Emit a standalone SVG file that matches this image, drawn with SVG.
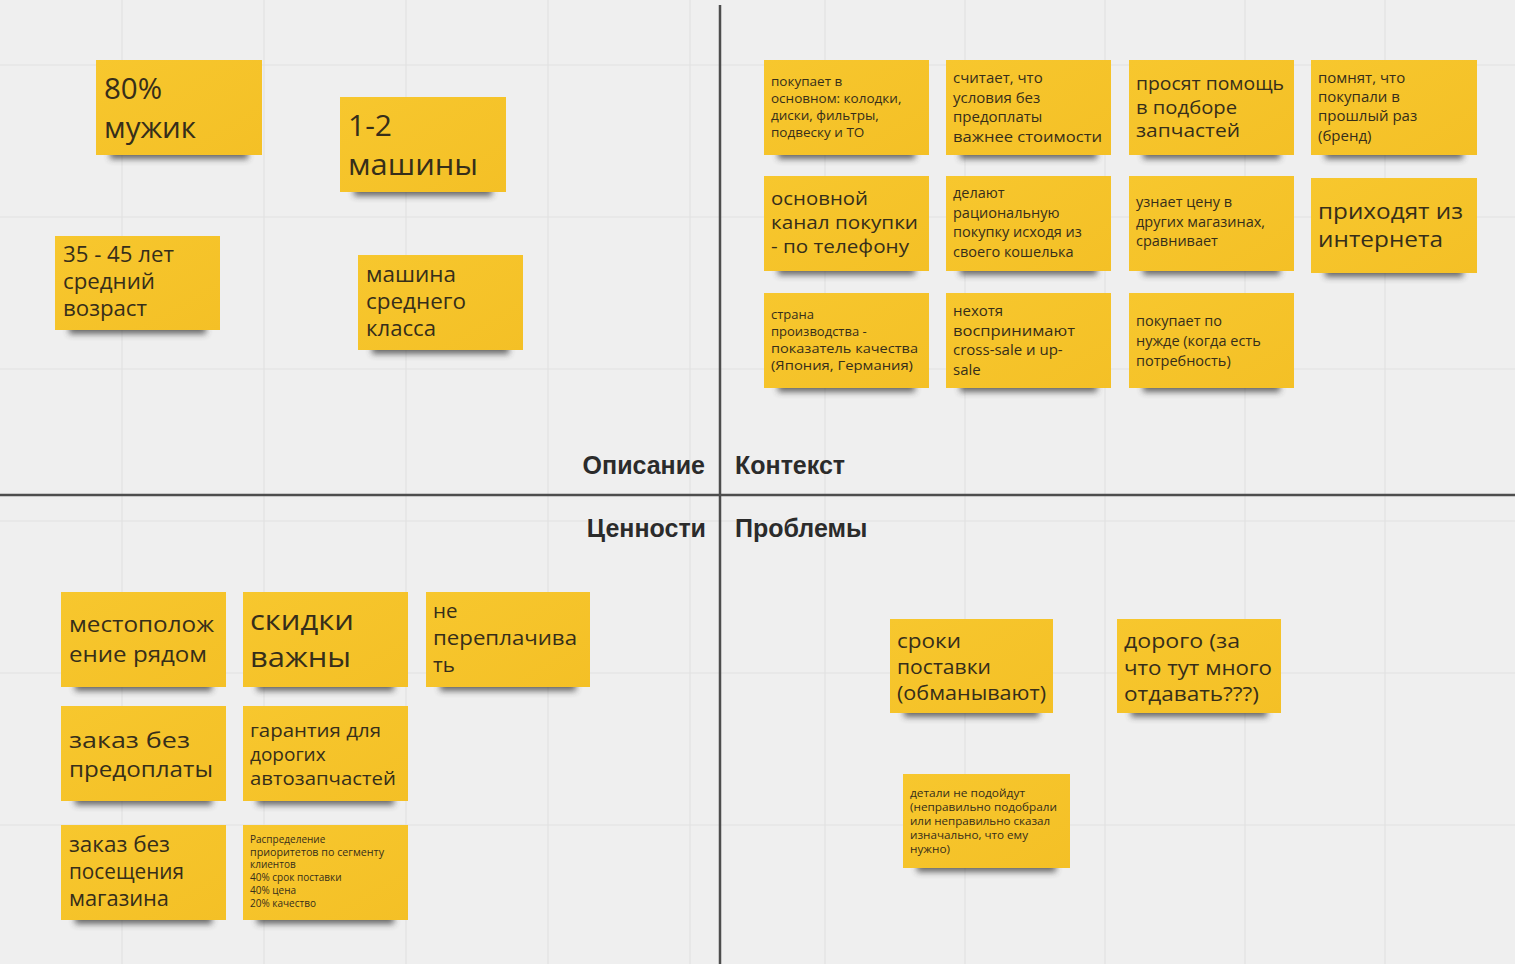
<svg xmlns="http://www.w3.org/2000/svg" width="1515" height="964" viewBox="0 0 1515 964">
<defs>
<filter id="blur" x="-20%" y="-100%" width="140%" height="300%"><feGaussianBlur stdDeviation="3"/></filter>
<linearGradient id="yel" x1="0" y1="0" x2="1" y2="1"><stop offset="0" stop-color="#f7c72e"/><stop offset="1" stop-color="#f4c026"/></linearGradient>
</defs>
<style>
.bg{fill:#efefef}
.grid{stroke:#e2e2e2;stroke-width:1.2;fill:none}
.axis{stroke:#4d4d4d;stroke-width:2.5;fill:none}
.hdr{font-family:"Liberation Sans",Arial,sans-serif;font-weight:bold;font-size:25px;fill:#2b2b2b}
.st{fill:url(#yel)}
.sh{fill:#3a3a3a;opacity:.75;filter:url(#blur)}
.t{font-family:"Open Sans","Noto Sans",sans-serif;fill:#362e1a}
</style>
<rect class="bg" x="0" y="0" width="1515" height="964"/>
<g id="grid">
<path class="grid" d="M122 0V495M264 0V495M406 0V495M548 0V495M690 0V495M122 495V964M264 495V964M406 495V964M548 495V964M690 495V964"/>
<path class="grid" d="M825 0V964M965 0V964M1105 0V964M1245 0V964M1385 0V964"/>
<path class="grid" d="M0 65H1515M0 217H1515M0 369H1515M0 521H1515M0 673H1515M0 825H1515"/>
</g>
<g id="connectors">
<path class="axis" d="M720 5V964"/>
<path class="axis" d="M0 495H1515"/>
</g>
<g id="labels">
<text class="hdr" x="705" y="474" text-anchor="end">Описание</text>
<text class="hdr" x="735" y="474">Контекст</text>
<text class="hdr" x="706" y="537" text-anchor="end">Ценности</text>
<text class="hdr" x="735" y="537">Проблемы</text>
</g>

<g id="n-muzhik">
<rect class="sh" x="110" y="145" width="138" height="14"/>
<rect class="st" x="96" y="60" width="166" height="95"/>
<text class="t" font-size="29.5"><tspan x="104" y="99">80%</tspan><tspan x="104" y="138">мужик</tspan></text>
</g>
<g id="n-mashiny">
<rect class="sh" x="354" y="182" width="138" height="14"/>
<rect class="st" x="340" y="97" width="166" height="95"/>
<text class="t" font-size="30"><tspan x="348" y="136">1-2</tspan><tspan x="348" y="175" textLength="130" lengthAdjust="spacingAndGlyphs">машины</tspan></text>
</g>
<g id="n-vozrast">
<rect class="sh" x="69" y="320" width="137" height="14"/>
<rect class="st" x="55" y="236" width="165" height="94"/>
<text class="t" font-size="21"><tspan x="63" y="262" textLength="111" lengthAdjust="spacingAndGlyphs">35 - 45 лет</tspan><tspan x="63" y="289" textLength="92" lengthAdjust="spacingAndGlyphs">средний</tspan><tspan x="63" y="316" textLength="84" lengthAdjust="spacingAndGlyphs">возраст</tspan></text>
</g>
<g id="n-klass">
<rect class="sh" x="372" y="340" width="137" height="14"/>
<rect class="st" x="358" y="255" width="165" height="95"/>
<text class="t" font-size="21"><tspan x="366" y="282" textLength="90" lengthAdjust="spacingAndGlyphs">машина</tspan><tspan x="366" y="309" textLength="100" lengthAdjust="spacingAndGlyphs">среднего</tspan><tspan x="366" y="336" textLength="70" lengthAdjust="spacingAndGlyphs">класса</tspan></text>
</g>

<g id="n-pokupaet">
<rect class="sh" x="778" y="145" width="137" height="14"/>
<rect class="st" x="764" y="60" width="165" height="95"/>
<text class="t" font-size="13.5"><tspan x="771" y="86">покупает в</tspan><tspan x="771" y="103">основном: колодки,</tspan><tspan x="771" y="120">диски, фильтры,</tspan><tspan x="771" y="137">подвеску и ТО</tspan></text>
</g>
<g id="n-schitaet">
<rect class="sh" x="960" y="145" width="137" height="14"/>
<rect class="st" x="946" y="60" width="165" height="95"/>
<text class="t" font-size="15"><tspan x="953" y="83">считает, что</tspan><tspan x="953" y="102.5">условия без</tspan><tspan x="953" y="122">предоплаты</tspan><tspan x="953" y="141.5" textLength="149" lengthAdjust="spacingAndGlyphs">важнее стоимости</tspan></text>
</g>
<g id="n-prosyat">
<rect class="sh" x="1143" y="145" width="137" height="14"/>
<rect class="st" x="1129" y="60" width="165" height="95"/>
<text class="t" font-size="18.3"><tspan x="1136" y="90" textLength="148" lengthAdjust="spacingAndGlyphs">просят помощь</tspan><tspan x="1136" y="113.5" textLength="101" lengthAdjust="spacingAndGlyphs">в подборе</tspan><tspan x="1136" y="137" textLength="104" lengthAdjust="spacingAndGlyphs">запчастей</tspan></text>
</g>
<g id="n-pomnyat">
<rect class="sh" x="1325" y="145" width="138" height="14"/>
<rect class="st" x="1311" y="60" width="166" height="95"/>
<text class="t" font-size="15"><tspan x="1318" y="83">помнят, что</tspan><tspan x="1318" y="102">покупали в</tspan><tspan x="1318" y="121">прошлый раз</tspan><tspan x="1318" y="141">(бренд)</tspan></text>
</g>

<g id="n-kanal">
<rect class="sh" x="778" y="261" width="137" height="14"/>
<rect class="st" x="764" y="176" width="165" height="95"/>
<text class="t" font-size="19"><tspan x="771" y="205" textLength="97" lengthAdjust="spacingAndGlyphs">основной</tspan><tspan x="771" y="229" textLength="147" lengthAdjust="spacingAndGlyphs">канал покупки</tspan><tspan x="771" y="253" textLength="138" lengthAdjust="spacingAndGlyphs">- по телефону</tspan></text>
</g>
<g id="n-racion">
<rect class="sh" x="960" y="261" width="137" height="14"/>
<rect class="st" x="946" y="176" width="165" height="95"/>
<text class="t" font-size="14.5"><tspan x="953" y="198">делают</tspan><tspan x="953" y="218">рациональную</tspan><tspan x="953" y="237">покупку исходя из</tspan><tspan x="953" y="257">своего кошелька</tspan></text>
</g>
<g id="n-cena">
<rect class="sh" x="1143" y="261" width="137" height="14"/>
<rect class="st" x="1129" y="176" width="165" height="95"/>
<text class="t" font-size="14.5"><tspan x="1136" y="207">узнает цену в</tspan><tspan x="1136" y="227">других магазинах,</tspan><tspan x="1136" y="246">сравнивает</tspan></text>
</g>
<g id="n-internet">
<rect class="sh" x="1325" y="263" width="138" height="14"/>
<rect class="st" x="1311" y="178" width="166" height="95"/>
<text class="t" font-size="22"><tspan x="1318" y="219" textLength="145" lengthAdjust="spacingAndGlyphs">приходят из</tspan><tspan x="1318" y="247" textLength="125" lengthAdjust="spacingAndGlyphs">интернета</tspan></text>
</g>

<g id="n-strana">
<rect class="sh" x="778" y="378" width="137" height="14"/>
<rect class="st" x="764" y="293" width="165" height="95"/>
<text class="t" font-size="13"><tspan x="771" y="319">страна</tspan><tspan x="771" y="336">производства -</tspan><tspan x="771" y="353" textLength="147" lengthAdjust="spacingAndGlyphs">показатель качества</tspan><tspan x="771" y="369.5" textLength="142" lengthAdjust="spacingAndGlyphs">(Япония, Германия)</tspan></text>
</g>
<g id="n-crosssale">
<rect class="sh" x="960" y="378" width="137" height="14"/>
<rect class="st" x="946" y="293" width="165" height="95"/>
<text class="t" font-size="15"><tspan x="953" y="316">нехотя</tspan><tspan x="953" y="335.5" textLength="122" lengthAdjust="spacingAndGlyphs">воспринимают</tspan><tspan x="953" y="355">cross-sale и up-</tspan><tspan x="953" y="374.5">sale</tspan></text>
</g>
<g id="n-nuzhda">
<rect class="sh" x="1143" y="378" width="137" height="14"/>
<rect class="st" x="1129" y="293" width="165" height="95"/>
<text class="t" font-size="14.5"><tspan x="1136" y="326">покупает по</tspan><tspan x="1136" y="346">нужде (когда есть</tspan><tspan x="1136" y="366">потребность)</tspan></text>
</g>

<g id="n-mesto">
<rect class="sh" x="75" y="677" width="137" height="14"/>
<rect class="st" x="61" y="592" width="165" height="95"/>
<text class="t" font-size="22.5"><tspan x="69" y="632" textLength="145" lengthAdjust="spacingAndGlyphs">местополож</tspan><tspan x="69" y="662" textLength="138" lengthAdjust="spacingAndGlyphs">ение рядом</tspan></text>
</g>
<g id="n-skidki">
<rect class="sh" x="257" y="677" width="137" height="14"/>
<rect class="st" x="243" y="592" width="165" height="95"/>
<text class="t" font-size="28"><tspan x="250" y="630" textLength="104" lengthAdjust="spacingAndGlyphs">скидки</tspan><tspan x="250" y="667" textLength="101" lengthAdjust="spacingAndGlyphs">важны</tspan></text>
</g>
<g id="n-pereplach">
<rect class="sh" x="440" y="677" width="136" height="14"/>
<rect class="st" x="426" y="592" width="164" height="95"/>
<text class="t" font-size="20.5"><tspan x="433" y="618">не</tspan><tspan x="433" y="645" textLength="144" lengthAdjust="spacingAndGlyphs">переплачива</tspan><tspan x="433" y="672">ть</tspan></text>
</g>
<g id="n-predoplata">
<rect class="sh" x="75" y="791" width="137" height="14"/>
<rect class="st" x="61" y="706" width="165" height="95"/>
<text class="t" font-size="22.5"><tspan x="69" y="748" textLength="121" lengthAdjust="spacingAndGlyphs">заказ без</tspan><tspan x="69" y="777" textLength="144" lengthAdjust="spacingAndGlyphs">предоплаты</tspan></text>
</g>
<g id="n-garantiya">
<rect class="sh" x="257" y="791" width="137" height="14"/>
<rect class="st" x="243" y="706" width="165" height="95"/>
<text class="t" font-size="19"><tspan x="250" y="737" textLength="131" lengthAdjust="spacingAndGlyphs">гарантия для</tspan><tspan x="250" y="761">дорогих</tspan><tspan x="250" y="785" textLength="146" lengthAdjust="spacingAndGlyphs">автозапчастей</tspan></text>
</g>
<g id="n-poseshenie">
<rect class="sh" x="75" y="910" width="137" height="14"/>
<rect class="st" x="61" y="825" width="165" height="95"/>
<text class="t" font-size="21"><tspan x="69" y="852" textLength="101" lengthAdjust="spacingAndGlyphs">заказ без</tspan><tspan x="69" y="879" textLength="115" lengthAdjust="spacingAndGlyphs">посещения</tspan><tspan x="69" y="906" textLength="100" lengthAdjust="spacingAndGlyphs">магазина</tspan></text>
</g>
<g id="n-prioritety">
<rect class="sh" x="257" y="910" width="137" height="14"/>
<rect class="st" x="243" y="825" width="165" height="95"/>
<text class="t" font-size="10"><tspan x="250" y="843">Распределение</tspan><tspan x="250" y="856" textLength="134" lengthAdjust="spacingAndGlyphs">приоритетов по сегменту</tspan><tspan x="250" y="868">клиентов</tspan><tspan x="250" y="881">40% срок поставки</tspan><tspan x="250" y="894">40% цена</tspan><tspan x="250" y="907">20% качество</tspan></text>
</g>

<g id="n-sroki">
<rect class="sh" x="904" y="703" width="135" height="14"/>
<rect class="st" x="890" y="619" width="163" height="94"/>
<text class="t" font-size="20.5"><tspan x="897" y="648" textLength="64" lengthAdjust="spacingAndGlyphs">сроки</tspan><tspan x="897" y="674" textLength="94" lengthAdjust="spacingAndGlyphs">поставки</tspan><tspan x="897" y="700" textLength="149" lengthAdjust="spacingAndGlyphs">(обманывают)</tspan></text>
</g>
<g id="n-dorogo">
<rect class="sh" x="1131" y="703" width="136" height="14"/>
<rect class="st" x="1117" y="619" width="164" height="94"/>
<text class="t" font-size="20.5"><tspan x="1124" y="648" textLength="116" lengthAdjust="spacingAndGlyphs">дорого (за</tspan><tspan x="1124" y="674.5" textLength="148" lengthAdjust="spacingAndGlyphs">что тут много</tspan><tspan x="1124" y="701" textLength="135" lengthAdjust="spacingAndGlyphs">отдавать???)</tspan></text>
</g>
<g id="n-detali">
<rect class="sh" x="917" y="858" width="139" height="14"/>
<rect class="st" x="903" y="774" width="167" height="94"/>
<text class="t" font-size="10.5"><tspan x="910" y="797" textLength="115" lengthAdjust="spacingAndGlyphs">детали не подойдут</tspan><tspan x="910" y="811" textLength="147" lengthAdjust="spacingAndGlyphs">(неправильно подобрали</tspan><tspan x="910" y="825" textLength="140" lengthAdjust="spacingAndGlyphs">или неправильно сказал</tspan><tspan x="910" y="839" textLength="118" lengthAdjust="spacingAndGlyphs">изначально, что ему</tspan><tspan x="910" y="853" textLength="40" lengthAdjust="spacingAndGlyphs">нужно)</tspan></text>
</g>
</svg>
